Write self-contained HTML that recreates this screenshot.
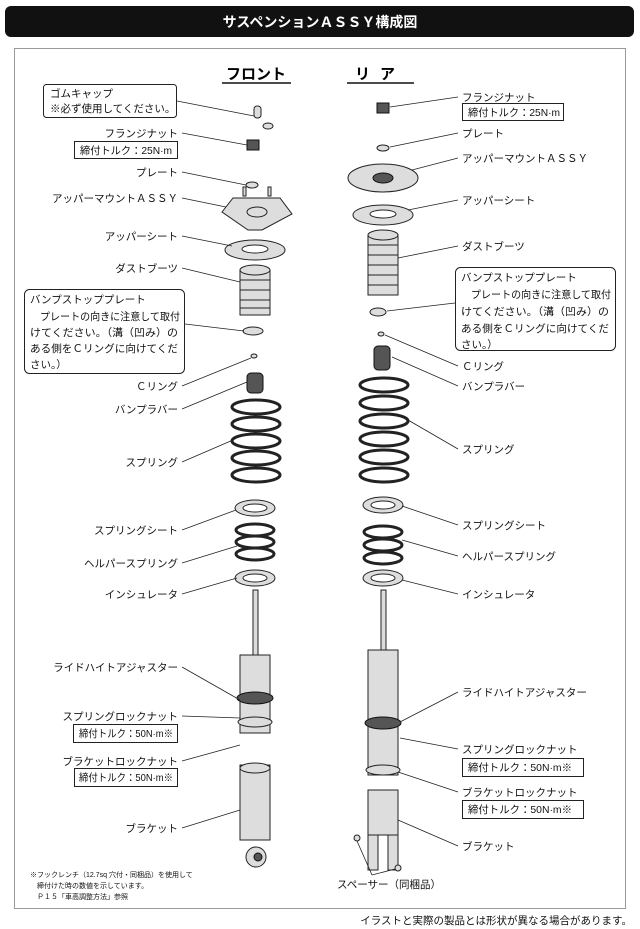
<!DOCTYPE html>
<html><head><meta charset="utf-8"><style>
html,body{margin:0;padding:0;background:#fff;}
svg{display:block;font-family:"Liberation Sans","Noto Sans CJK JP",sans-serif;}
.l{font-size:10.5px;fill:#111;}
.s{font-size:7px;fill:#111;}
line.ld{stroke:#222;stroke-width:0.8;}
.bx{fill:#fff;stroke:#222;stroke-width:1;}
.p{fill:#ddd;stroke:#222;stroke-width:1;}
.d{fill:#555;stroke:#111;stroke-width:1;}
</style></head><body>
<svg width="640" height="929" viewBox="0 0 640 929">
<rect x="5" y="6" width="629" height="31" rx="6" fill="#111"/>
<text x="320" y="27" text-anchor="middle" font-size="14" font-weight="bold" fill="#fff">サスペンションＡＳＳＹ構成図</text>
<rect x="14.5" y="48.5" width="611" height="860" fill="#fff" stroke="#999" stroke-width="1"/>
<text x="256" y="79" text-anchor="middle" font-size="15" font-weight="bold">フロント</text>
<line x1="222" y1="83" x2="291" y2="83" stroke="#111" stroke-width="1.5"/>
<text x="380" y="79" text-anchor="middle" font-size="15" font-weight="bold" letter-spacing="10">リア</text>
<line x1="347" y1="83" x2="414" y2="83" stroke="#111" stroke-width="1.5"/>

<!-- FRONT PARTS -->
<g>
<rect x="254" y="106" width="7" height="12" rx="3" class="p"/>
<ellipse cx="268" cy="126" rx="5" ry="3" class="p"/>
<path d="M247,140 h12 v10 h-12z" class="d"/>
<ellipse cx="252" cy="185" rx="6" ry="3" class="p"/>
<path d="M222,212 L233,198 L280,198 L292,214 L262,230 L248,230 Z" class="p"/>
<ellipse cx="257" cy="212" rx="10" ry="5" class="p"/>
<rect x="243" y="187" width="3" height="9" class="p"/><rect x="268" y="187" width="3" height="9" class="p"/>
<ellipse cx="255" cy="250" rx="30" ry="10" class="p"/>
<ellipse cx="255" cy="249" rx="13" ry="4" fill="#fff" stroke="#222"/>
<rect x="240" y="270" width="30" height="45" class="p"/>
<g stroke="#222" fill="none"><path d="M240,280 h30 M240,290 h30 M240,300 h30 M240,308 h30"/></g>
<ellipse cx="255" cy="270" rx="15" ry="5" class="p"/>
<ellipse cx="253" cy="331" rx="10" ry="4" class="p"/>
<ellipse cx="254" cy="356" rx="3" ry="2" class="p"/>
<rect x="247" y="373" width="16" height="20" rx="4" class="d"/>
<g fill="none" stroke="#222" stroke-width="3">
<ellipse cx="256" cy="407" rx="24" ry="7"/><ellipse cx="256" cy="424" rx="24" ry="7"/><ellipse cx="256" cy="441" rx="24" ry="7"/><ellipse cx="256" cy="458" rx="24" ry="7"/><ellipse cx="256" cy="475" rx="24" ry="7"/></g>
<ellipse cx="255" cy="508" rx="20" ry="8" class="p"/><ellipse cx="255" cy="508" rx="12" ry="4" fill="#fff" stroke="#222"/>
<g fill="none" stroke="#222" stroke-width="3"><ellipse cx="255" cy="530" rx="19" ry="6"/><ellipse cx="255" cy="542" rx="19" ry="6"/><ellipse cx="255" cy="554" rx="19" ry="6"/></g>
<ellipse cx="255" cy="578" rx="20" ry="8" class="p"/><ellipse cx="255" cy="578" rx="12" ry="4" fill="#fff" stroke="#222"/>
<rect x="253" y="590" width="5" height="66" class="p"/>
<rect x="240" y="655" width="30" height="78" class="p"/>
<ellipse cx="255" cy="698" rx="18" ry="6" class="d"/>
<ellipse cx="255" cy="722" rx="17" ry="5" class="p"/>
<rect x="240" y="765" width="30" height="75" class="p"/>
<ellipse cx="255" cy="768" rx="15" ry="5" class="p"/>
<circle cx="256" cy="857" r="10" class="p"/><circle cx="258" cy="857" r="4" class="d"/>
</g>

<!-- REAR PARTS -->
<g>
<path d="M377,103 h12 v10 h-12z" class="d"/>
<ellipse cx="383" cy="148" rx="6" ry="3" class="p"/>
<ellipse cx="383" cy="178" rx="35" ry="14" class="p"/>
<ellipse cx="383" cy="178" rx="10" ry="5" class="d"/>
<ellipse cx="383" cy="215" rx="30" ry="10" class="p"/><ellipse cx="383" cy="214" rx="13" ry="4" fill="#fff" stroke="#222"/>
<rect x="368" y="235" width="30" height="60" class="p"/>
<g stroke="#222" fill="none"><path d="M368,245 h30 M368,255 h30 M368,265 h30 M368,275 h30 M368,285 h30"/></g>
<ellipse cx="383" cy="235" rx="15" ry="5" class="p"/>
<ellipse cx="378" cy="312" rx="8" ry="4" class="p"/>
<ellipse cx="381" cy="334" rx="3" ry="2" class="p"/>
<rect x="374" y="346" width="16" height="24" rx="4" class="d"/>
<g fill="none" stroke="#222" stroke-width="3">
<ellipse cx="384" cy="385" rx="24" ry="7"/><ellipse cx="384" cy="403" rx="24" ry="7"/><ellipse cx="384" cy="421" rx="24" ry="7"/><ellipse cx="384" cy="439" rx="24" ry="7"/><ellipse cx="384" cy="457" rx="24" ry="7"/><ellipse cx="384" cy="475" rx="24" ry="7"/></g>
<ellipse cx="383" cy="505" rx="20" ry="8" class="p"/><ellipse cx="383" cy="505" rx="12" ry="4" fill="#fff" stroke="#222"/>
<g fill="none" stroke="#222" stroke-width="3"><ellipse cx="383" cy="532" rx="19" ry="6"/><ellipse cx="383" cy="545" rx="19" ry="6"/><ellipse cx="383" cy="558" rx="19" ry="6"/></g>
<ellipse cx="383" cy="578" rx="20" ry="8" class="p"/><ellipse cx="383" cy="578" rx="12" ry="4" fill="#fff" stroke="#222"/>
<rect x="381" y="590" width="5" height="62" class="p"/>
<rect x="368" y="650" width="30" height="125" class="p"/>
<ellipse cx="383" cy="723" rx="18" ry="6" class="d"/>
<ellipse cx="383" cy="770" rx="17" ry="5" class="p"/>
<rect x="368" y="790" width="30" height="45" class="p"/>
<path d="M368,835 h10 v35 h-10z M388,835 h10 v35 h-10z" class="p"/>
<circle cx="357" cy="838" r="3" class="p"/><circle cx="398" cy="868" r="3" class="p"/>
</g>

<!-- LEFT LABELS -->
<rect x="43.5" y="84.5" width="133" height="33" rx="3" class="bx"/>
<text class="l" x="50" y="97">ゴムキャップ</text>
<text class="l" x="50" y="112">※必ず使用してください。</text>
<line class="ld" x1="177" y1="101" x2="254" y2="116"/>
<g class="l" text-anchor="end">
<text x="178" y="137">フランジナット</text>
<text x="178" y="176">プレート</text>
<text x="178" y="202">アッパーマウントＡＳＳＹ</text>
<text x="178" y="240">アッパーシート</text>
<text x="178" y="272">ダストブーツ</text>
<text x="178" y="390">Ｃリング</text>
<text x="178" y="413">バンプラバー</text>
<text x="178" y="466">スプリング</text>
<text x="178" y="534">スプリングシート</text>
<text x="178" y="567">ヘルパースプリング</text>
<text x="178" y="598">インシュレータ</text>
<text x="178" y="671">ライドハイトアジャスター</text>
<text x="178" y="720">スプリングロックナット</text>
<text x="178" y="765">ブラケットロックナット</text>
<text x="178" y="832">ブラケット</text>
</g>
<rect x="74.5" y="141.5" width="103" height="17" class="bx"/><text class="l" x="80" y="154" textLength="92" lengthAdjust="spacingAndGlyphs">締付トルク：25N·m</text>
<rect x="73.5" y="724.5" width="104" height="18" class="bx"/><text class="l" x="79" y="737" textLength="94" lengthAdjust="spacingAndGlyphs">締付トルク：50N·m※</text>
<rect x="74.5" y="768.5" width="103" height="18" class="bx"/><text class="l" x="79" y="781" textLength="94" lengthAdjust="spacingAndGlyphs">締付トルク：50N·m※</text>
<rect x="24.5" y="289.5" width="160" height="84" rx="5" class="bx"/>
<g class="l"><text x="30" y="303">バンプストッププレート</text>
<text x="40" y="320" textLength="140" lengthAdjust="spacingAndGlyphs">プレートの向きに注意して取付</text>
<text x="30" y="336" textLength="148" lengthAdjust="spacingAndGlyphs">けてください。（溝（凹み）の</text>
<text x="30" y="352" textLength="148" lengthAdjust="spacingAndGlyphs">ある側をＣリングに向けてくだ</text>
<text x="30" y="368">さい。）</text></g>
<g>
<line class="ld" x1="182" y1="133" x2="247" y2="145"/>
<line class="ld" x1="182" y1="172" x2="246" y2="185"/>
<line class="ld" x1="182" y1="198" x2="226" y2="207"/>
<line class="ld" x1="182" y1="236" x2="232" y2="246"/>
<line class="ld" x1="182" y1="268" x2="240" y2="282"/>
<line class="ld" x1="185" y1="324" x2="244" y2="331"/>
<line class="ld" x1="182" y1="386" x2="251" y2="358"/>
<line class="ld" x1="182" y1="409" x2="247" y2="382"/>
<line class="ld" x1="182" y1="462" x2="233" y2="440"/>
<line class="ld" x1="182" y1="530" x2="236" y2="510"/>
<line class="ld" x1="182" y1="563" x2="237" y2="546"/>
<line class="ld" x1="182" y1="594" x2="237" y2="578"/>
<line class="ld" x1="182" y1="667" x2="240" y2="700"/>
<line class="ld" x1="182" y1="716" x2="240" y2="718"/>
<line class="ld" x1="182" y1="761" x2="240" y2="745"/>
<line class="ld" x1="182" y1="828" x2="240" y2="810"/>
</g>
<g class="s"><text x="30" y="877">※フックレンチ（12.7sq 穴付・同梱品）を使用して</text>
<text x="37" y="888">締付けた時の数値を示しています。</text>
<text x="37" y="899">Ｐ１５「車高調整方法」参照</text></g>

<!-- RIGHT LABELS -->
<g class="l">
<text x="462" y="101">フランジナット</text>
<text x="462" y="137">プレート</text>
<text x="462" y="162">アッパーマウントＡＳＳＹ</text>
<text x="462" y="204">アッパーシート</text>
<text x="462" y="250">ダストブーツ</text>
<text x="462" y="370">Ｃリング</text>
<text x="462" y="390">バンプラバー</text>
<text x="462" y="453">スプリング</text>
<text x="462" y="529">スプリングシート</text>
<text x="462" y="560">ヘルパースプリング</text>
<text x="462" y="598">インシュレータ</text>
<text x="462" y="696">ライドハイトアジャスター</text>
<text x="462" y="753">スプリングロックナット</text>
<text x="462" y="796">ブラケットロックナット</text>
<text x="462" y="850">ブラケット</text>
<text x="389" y="888" text-anchor="middle">スペーサー（同梱品）</text>
</g>
<rect x="462.5" y="103.5" width="101" height="17" class="bx"/><text class="l" x="468" y="116" textLength="92" lengthAdjust="spacingAndGlyphs">締付トルク：25N·m</text>
<rect x="462.5" y="758.5" width="121" height="18" class="bx"/><text class="l" x="468" y="771" textLength="104" lengthAdjust="spacingAndGlyphs">締付トルク：50N·m※</text>
<rect x="462.5" y="800.5" width="121" height="18" class="bx"/><text class="l" x="468" y="813" textLength="104" lengthAdjust="spacingAndGlyphs">締付トルク：50N·m※</text>
<rect x="455.5" y="267.5" width="160" height="83" rx="5" class="bx"/>
<g class="l"><text x="461" y="281">バンプストッププレート</text>
<text x="471" y="298" textLength="140" lengthAdjust="spacingAndGlyphs">プレートの向きに注意して取付</text>
<text x="461" y="315" textLength="148" lengthAdjust="spacingAndGlyphs">けてください。（溝（凹み）の</text>
<text x="461" y="332" textLength="148" lengthAdjust="spacingAndGlyphs">ある側をＣリングに向けてくだ</text>
<text x="461" y="348">さい。）</text></g>
<g>
<line class="ld" x1="458" y1="97" x2="390" y2="107"/>
<line class="ld" x1="458" y1="133" x2="390" y2="147"/>
<line class="ld" x1="458" y1="158" x2="412" y2="170"/>
<line class="ld" x1="458" y1="200" x2="408" y2="210"/>
<line class="ld" x1="458" y1="246" x2="398" y2="258"/>
<line class="ld" x1="455" y1="303" x2="387" y2="311"/>
<line class="ld" x1="458" y1="366" x2="385" y2="335"/>
<line class="ld" x1="458" y1="386" x2="392" y2="357"/>
<line class="ld" x1="458" y1="449" x2="408" y2="420"/>
<line class="ld" x1="458" y1="525" x2="402" y2="506"/>
<line class="ld" x1="458" y1="556" x2="402" y2="540"/>
<line class="ld" x1="458" y1="594" x2="402" y2="580"/>
<line class="ld" x1="458" y1="692" x2="400" y2="722"/>
<line class="ld" x1="458" y1="749" x2="400" y2="738"/>
<line class="ld" x1="458" y1="792" x2="398" y2="772"/>
<line class="ld" x1="458" y1="846" x2="398" y2="820"/>
<line class="ld" x1="372" y1="875" x2="357" y2="841"/>
<line class="ld" x1="372" y1="875" x2="395" y2="869"/>
</g>
<text x="632" y="924" text-anchor="end" font-size="10.5" fill="#111">イラストと実際の製品とは形状が異なる場合があります。</text>
</svg>
</body></html>
